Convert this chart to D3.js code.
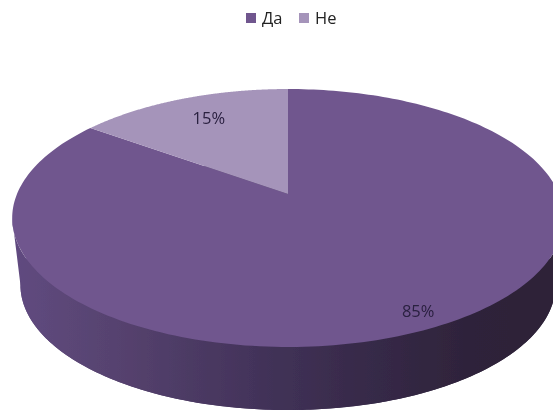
<!DOCTYPE html>
<html><head><meta charset="utf-8">
<script src="https://cdn.jsdelivr.net/npm/d3@7/dist/d3.min.js"></script>
<style>html,body{margin:0;padding:0;background:#fff;overflow:hidden}svg{display:block}
text{font-family:"Open Sans","Noto Sans",sans-serif;font-size:16.5px}</style>
</head><body><svg id="c" width="553" height="412"></svg>
<script>
const categories = ["Да", "Не"];
const values = [85, 15];
const colors = ["#70568e", "#a594ba"];
const labelTexts = ["85%", "15%"];

const svg = d3.select("#c");
const defs = svg.append("defs");
const soft = defs.append("filter").attr("id","soft").attr("x","-10%").attr("y","-10%").attr("width","120%").attr("height","120%");
soft.append("feGaussianBlur").attr("stdDeviation",0.45);
const grad = defs.append("linearGradient").attr("id","wall").attr("gradientUnits","userSpaceOnUse")
  .attr("x1",12).attr("x2",553).attr("y1",0).attr("y2",0);
[[0,"#604a80"],[0.18,"#574370"],[0.45,"#43335a"],[0.65,"#372a49"],[0.85,"#2e233a"],[1,"#2d2238"]]
  .forEach(([o,c])=>grad.append("stop").attr("offset",o).attr("stop-color",c));

// perspective projection of the unit disc on to the page
const x0=288,y0=194,a=271,b=124.5,p=0.186;
const project=(u,v)=>{const w=1-p*v;return [x0+a*u/w,y0+b*v/w];};
const rim=(t,r=1)=>project(r*Math.sin(t),-r*Math.cos(t));
const scaleX=0.97,depth=67,midY=218;
const lower=([x,y])=>[x0+(x-x0)*scaleX,midY+depth+(y-midY)*scaleX];

const pie=d3.pie().value(d=>d).sort(null).startAngle(0).endAngle(2*Math.PI);
const arcs=pie(values);
const line=d3.line();
const samples=(t0,t1,n=240)=>d3.range(n+1).map(i=>t0+(t1-t0)*i/n);

// wall: bottom rim plus the visible front band
const tExtreme=Math.PI/2+Math.asin(p);
const frontTop=samples(tExtreme,2*Math.PI-tExtreme).map(t=>rim(t));
const frontBot=samples(2*Math.PI-tExtreme,tExtreme).map(t=>lower(rim(t)));
const g=svg.append("g").attr("filter","url(#soft)");
g.append("path").attr("d",line(samples(0,2*Math.PI).map(t=>lower(rim(t))))+"Z").attr("fill","url(#wall)");
g.append("path").attr("d",line(frontTop.concat(frontBot))+"Z").attr("fill","url(#wall)");

// top face
g.selectAll("path.slice").data(arcs).join("path").attr("class","slice")
  .attr("d",d=>line([project(0,0)].concat(samples(d.startAngle,d.endAngle).map(t=>rim(t))))+"Z")
  .attr("fill",(d,i)=>colors[i]);

// data labels
const labelR=[0.9,0.72], labelDy=[6,1];
g.selectAll("text.lab").data(arcs).join("text").attr("class","lab")
  .attr("text-anchor","middle").attr("fill","#2a2040")
  .each(function(d,i){const [x,y]=rim((d.startAngle+d.endAngle)/2,labelR[i]);
    d3.select(this).attr("x",x).attr("y",y+labelDy[i]).text(labelTexts[i]);});

// legend
const legendX=d3.scaleOrdinal().domain(categories).range([246,299]);
const lg=svg.append("g").attr("filter","url(#soft)");
categories.forEach((c,i)=>{
  lg.append("rect").attr("x",legendX(c)).attr("y",13).attr("width",10).attr("height",10).attr("fill",colors[i]);
  lg.append("text").attr("x",legendX(c)+16).attr("y",24).attr("fill","#222").text(c);
});
</script></body></html>
